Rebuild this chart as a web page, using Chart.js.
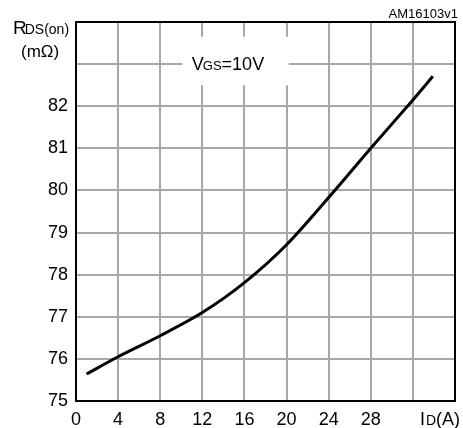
<!DOCTYPE html>
<html>
<head>
<meta charset="utf-8">
<script src="https://cdn.jsdelivr.net/npm/chart.js@4"></script>
<style>
  html, body { margin: 0; padding: 0; background: #fff; }
  #wrap { width: 463px; height: 428px; }
</style>
</head>
<body>
<div id="wrap"><canvas id="rdsChart" width="463" height="428"></canvas></div>
<script>
// drain current (A) and on-resistance (mOhm)
const currentA = [1, 4, 8, 12, 16, 20, 24, 28, 32, 33.9];
const rdsOn = [75.64, 76.05, 76.55, 77.1, 77.81, 78.71, 79.83, 81.0, 82.15, 82.71];
const xTicks = [0, 4, 8, 12, 16, 20, 24, 28];
const yTicks = [75, 76, 77, 78, 79, 80, 81, 82];

const FONT = "'Liberation Sans', Arial, sans-serif";

// draws text runs like R + small DS(on)
function drawRuns(ctx, x, y, runs) {
    let cx = x;
    runs.forEach(r => {
        ctx.font = r.size + "px " + FONT;
        ctx.fillText(r.text, cx, y);
        cx += ctx.measureText(r.text).width + (r.gap || 0);
    });
}

const labelsPlugin = {
    id: 'labels',
    beforeDatasetsDraw(chart) {
        const ctx = chart.ctx;
        const xs = chart.scales.x, ys = chart.scales.y;
        // white box behind the VGS label
        const x0 = xs.getPixelForValue(10.1), x1 = xs.getPixelForValue(20.2);
        const y0 = ys.getPixelForValue(83.65), y1 = ys.getPixelForValue(82.5);
        ctx.save();
        ctx.fillStyle = '#fff';
        ctx.fillRect(x0, y0, x1 - x0, y1 - y0);
        ctx.restore();
    },
    afterDraw(chart) {
        const ctx = chart.ctx;
        const area = chart.chartArea;
        const xs = chart.scales.x, ys = chart.scales.y;
        ctx.save();
        // frame
        ctx.strokeStyle = '#000';
        ctx.lineWidth = 2;
        ctx.strokeRect(area.left, area.top, area.right - area.left, area.bottom - area.top);

        ctx.fillStyle = '#000';
        ctx.textBaseline = 'alphabetic';
        ctx.textAlign = 'left';
        // y title
        drawRuns(ctx, 13, 34, [{text: 'R', size: 19, gap: -2}, {text: 'DS(on)', size: 14}]);
        drawRuns(ctx, 21, 57, [{text: '(m\u03A9)', size: 17}]);
        // x title
        drawRuns(ctx, 420, 425, [{text: 'I', size: 18, gap: 1}, {text: 'D', size: 14}, {text: '(A)', size: 18}]);
        // figure id
        ctx.font = "13px " + FONT;
        ctx.textAlign = 'right';
        ctx.fillText('AM16103v1', 458, 18);
        ctx.textAlign = 'left';
        // condition label
        drawRuns(ctx, xs.getPixelForValue(11.0), ys.getPixelForValue(82.85),
            [{text: 'V', size: 18, gap: -1}, {text: 'GS', size: 13}, {text: '=10V', size: 18}]);
        ctx.restore();
    }
};

const points = currentA.map((x, i) => ({x: x, y: rdsOn[i]}));

new Chart(document.getElementById('rdsChart'), {
    type: 'scatter',
    data: {
        datasets: [{
            data: points,
            showLine: true,
            borderColor: '#000',
            borderWidth: 3,
            pointRadius: 0,
            tension: 0.3,
            fill: false
        }]
    },
    options: {
        responsive: false,
        animation: false,
        layout: { padding: { top: 22, right: 8, left: 0, bottom: 0 } },
        plugins: { legend: { display: false }, tooltip: { enabled: false } },
        scales: {
            x: {
                type: 'linear',
                min: 0,
                max: 36,
                afterBuildTicks(scale) {
                    scale.ticks = [0, 4, 8, 12, 16, 20, 24, 28, 32, 36].map(v => ({value: v}));
                },
                afterFit(scale) { scale.height = 27; },
                grid: { color: '#a8a8a8', lineWidth: 2, drawTicks: false },
                border: { color: '#000', width: 2 },
                ticks: {
                    padding: 8,
                    maxRotation: 0,
                    color: '#000',
                    font: { family: FONT, size: 18 },
                    callback: v => xTicks.includes(v) ? String(v) : ''
                }
            },
            y: {
                min: 75,
                max: 84,
                afterBuildTicks(scale) {
                    scale.ticks = [75, 76, 77, 78, 79, 80, 81, 82, 83, 84].map(v => ({value: v}));
                },
                afterFit(scale) { scale.width = 76; },
                grid: { color: '#a8a8a8', lineWidth: 2, drawTicks: false },
                border: { color: '#000', width: 2 },
                ticks: {
                    padding: 8,
                    color: '#000',
                    font: { family: FONT, size: 18 },
                    callback: v => yTicks.includes(v) ? String(v) : ''
                }
            }
        }
    },
    plugins: [labelsPlugin]
});
</script>
</body>
</html>
